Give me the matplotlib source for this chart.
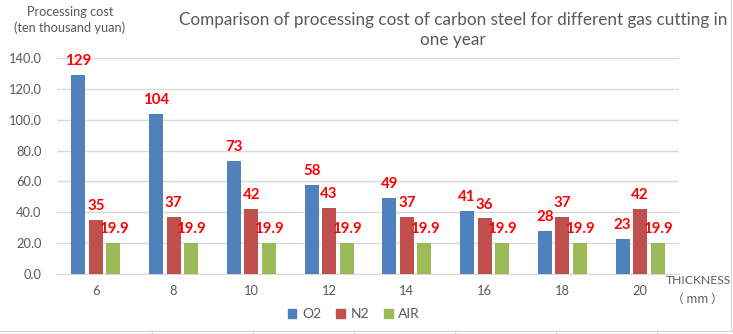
import matplotlib.pyplot as plt
import numpy as np
from matplotlib.lines import Line2D

# data: processing cost (ten thousand yuan) by plate thickness
thickness = ['6', '8', '10', '12', '14', '16', '18', '20']
o2 = [129, 104, 73, 58, 49, 41, 28, 23]
n2 = [35, 37, 42, 43, 37, 36, 37, 42]
air = [19.9, 19.9, 19.9, 19.9, 19.9, 19.9, 19.9, 19.9]

series = [('O2', o2, '#4f81bd'), ('N2', n2, '#c0504d'), ('AIR', air, '#9bbb59')]
grey = '#595959'

plt.rcParams['font.family'] = ['Lato', 'DejaVu Sans']

fig = plt.figure(figsize=(7.33, 3.34), dpi=100)
fig.patch.set_facecolor('white')
ax = fig.add_axes([57 / 733, 1 - 274 / 334, 622 / 733, 216 / 334])

x = np.arange(len(thickness))
width = 0.18
step = 0.225
for i, (name, vals, col) in enumerate(series):
    pos = x + (i - 1) * step
    ax.bar(pos, vals, width=width, color=col, label=name, zorder=3)
    for p, v in zip(pos, vals):
        txt = f'{v:g}'
        ax.annotate(txt, (p, v), xytext=(0, 5), textcoords='offset points',
                    ha='center', va='bottom', color='#ff0000',
                    fontsize=10.8, fontweight='bold', zorder=4)

ax.set_xlim(-0.5, len(thickness) - 0.5)
ax.set_ylim(0, 140)
ax.set_yticks(np.arange(0, 141, 20))
ax.set_yticklabels([f'{t:.1f}' for t in np.arange(0, 141, 20)])
ax.set_xticks(x)
ax.set_xticklabels(thickness)
ax.yaxis.grid(True, color='#d9d9d9', linewidth=1, zorder=0)
ax.tick_params(axis='both', length=0, colors=grey, labelsize=9.3)
ax.tick_params(axis='x', pad=8)
ax.tick_params(axis='y', pad=11)
for s in ['top', 'right', 'left']:
    ax.spines[s].set_visible(False)
ax.spines['bottom'].set_color('#d9d9d9')

fig.text(453 / 733, 1 - 30 / 334,
         'Comparison of processing cost of carbon steel for different gas cutting in\none year',
         ha='center', va='center', fontsize=12.3, color=grey, linespacing=1.35)
fig.text(70 / 733, 1 - 20 / 334, 'Processing cost\n(ten thousand yuan)',
         ha='center', va='center', fontsize=9.2, color=grey, linespacing=1.3)
fig.text(698 / 733, 1 - 280 / 334, 'THICKNESS',
         ha='center', va='center', fontsize=8.7, color=grey)
fig.text(697 / 733, 1 - 299 / 334, '（ mm ）',
         ha='center', va='center', fontsize=8.5, color=grey,
         family=['Noto Sans CJK SC', 'DejaVu Sans'])

handles = [plt.Rectangle((0, 0), 1, 1, color=c) for _, _, c in series]
fig.legend(handles, [n for n, _, _ in series], loc='center',
           bbox_to_anchor=(354 / 733, 1 - 314 / 334), ncol=3, frameon=False,
           fontsize=10, handlelength=0.6, handleheight=0.6, handletextpad=0.4,
           columnspacing=1.1, labelcolor=grey)

# frame lines at the bottom and right of the canvas
fig.add_artist(Line2D([0, 1], [1 - 331 / 334] * 2, color='#d9d9d9', lw=1))
fig.add_artist(Line2D([731 / 733] * 2, [1 - 331 / 334, 1], color='#d9d9d9', lw=1))
for tx in [152, 253, 354, 455, 556, 657]:
    fig.add_artist(Line2D([tx / 733] * 2, [0, 1 - 331 / 334], color='#d9d9d9', lw=1))

fig.savefig('out.png', dpi=100, facecolor='white')
